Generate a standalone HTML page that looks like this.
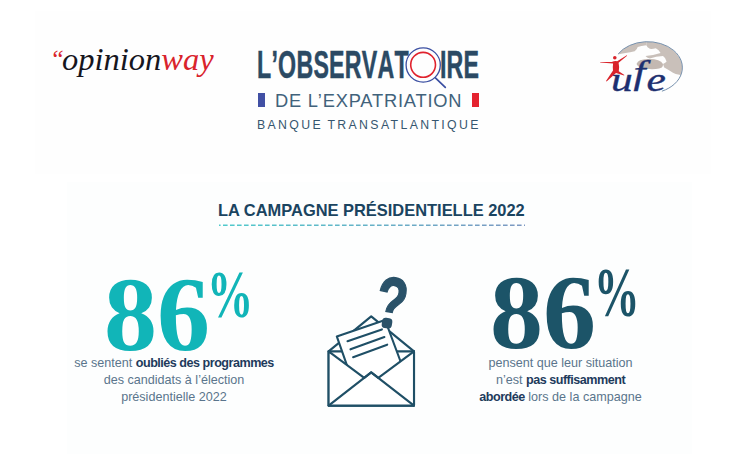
<!DOCTYPE html>
<html lang="fr">
<head>
<meta charset="utf-8">
<title>L'Observatoire de l'expatriation – La campagne présidentielle 2022</title>
<style>
  html,body{margin:0;padding:0;background:#fff;}
  body{width:745px;height:465px;position:relative;overflow:hidden;
       font-family:"Liberation Sans",sans-serif;}
  .abs{position:absolute;white-space:nowrap;line-height:1;transform-origin:left top;}
  .panel{position:absolute;background:#fefefe;}
  #p1{left:35px;top:11px;width:676px;height:163px;}
  #p2{left:67px;top:182px;width:624.5px;height:272px;background:#fdfefe;}

  /* opinionway */
  #ow{left:50px;top:43px;font-family:"Liberation Serif",serif;font-style:italic;
      font-size:32.5px;color:#16161e;}
  #ow .r{color:#d9232b;}
  #ow .q{font-size:25px;position:relative;top:-3px;margin-right:-2px;}

  /* observatoire */
  #obs{left:257px;top:45px;font-weight:bold;font-size:39px;color:#2b4a64;
       transform:scaleX(0.595);font-kerning:none;letter-spacing:0.4px;-webkit-text-stroke:0.5px #2b4a64;}
  #obs .o{display:inline-block;width:52px;text-align:center;color:transparent;letter-spacing:0;-webkit-text-stroke:0 transparent;}
  #obs .e{letter-spacing:0.3px;}
  #de{left:275px;top:91.6px;font-size:18.3px;color:#41627b;letter-spacing:0.8px;}
  #bq{left:257px;top:119px;font-size:12.3px;color:#36566f;letter-spacing:2.36px;word-spacing:-1.2px;}
  .bar{position:absolute;width:6.5px;height:14px;top:93px;}
  #bb{left:258px;background:#4150a4;}
  #br{left:472px;background:#e4232f;}

  /* title */
  #ttl{left:217.5px;top:202.3px;font-weight:bold;font-size:16.2px;color:#1a4460;transform:scaleX(1.015);}
  #dash{position:absolute;left:219px;top:224px;width:307px;height:3px;}

  /* numbers */
  .num{font-family:"Liberation Serif",serif;font-weight:bold;font-size:106px;}
  #n1{left:104px;top:262px;color:#11b5b8;}
  #n2{left:490px;top:260px;color:#1c5468;}
  .pct{font-family:"Liberation Serif",serif;font-weight:bold;font-size:68px;transform:scaleX(0.68);}
  #pc1{left:206.5px;top:259.5px;color:#11b5b8;}
  #pc2{left:593.5px;top:258px;font-size:70px;transform:scaleX(0.65);color:#1c5468;}

  .txt{position:absolute;text-align:center;font-size:12.6px;line-height:16.9px;
       color:#5a758c;white-space:nowrap;}
  .txt b{color:#1e3b5c;letter-spacing:-0.5px;}
  #t1{left:24px;width:300px;top:355px;}
  #t2{left:410.5px;width:300px;top:355px;}

  .ico{position:absolute;overflow:visible;}
  #ufe{left:611px;top:63px;font-family:"Liberation Serif",serif;font-style:italic;
       font-size:34px;color:#1d2f70;-webkit-text-stroke:0.35px #1d2f70;transform:scaleX(1.28);letter-spacing:0.6px;}
  #ufe .f{position:relative;top:-7px;}
  #qm{left:382px;top:265px;font-weight:bold;font-size:71px;color:#2a5269;
      -webkit-text-stroke:1.4px #2a5269;transform:rotate(9deg) scaleX(0.72);clip-path:inset(-5px -5px 23px -5px);}
</style>
</head>
<body>
<div class="panel" id="p1"></div>
<div class="panel" id="p2"></div>

<div class="abs" id="ow"><span class="r q">“</span>opinion<span class="r">way</span></div>

<div class="abs" id="obs">L’OBSERVAT<span class="o">O</span><span class="e">IRE</span></div>
<div class="bar" id="bb"></div>
<div class="abs" id="de">DE L’EXPATRIATION</div>
<div class="bar" id="br"></div>
<div class="abs" id="bq">BANQUE TRANSATLANTIQUE</div>


<!-- magnifier replacing the second O -->
<svg class="ico" style="left:400px;top:42px;width:52px;height:50px" viewBox="400 42 52 50">
  <circle cx="423.2" cy="65" r="17.1" fill="none" stroke="#3b4fa2" stroke-width="1.3"/>
  <circle cx="423.1" cy="64.8" r="12.4" fill="none" stroke="#e0222d" stroke-width="1.6"/>
  <line x1="435.4" y1="77.9" x2="445.3" y2="87.3" stroke="#3b4fa2" stroke-width="1.7" stroke-linecap="round"/>
</svg>

<!-- envelope icon -->
<svg class="ico" style="left:320px;top:305px;width:104px;height:110px" viewBox="320 305 104 110">
  <g fill="none" stroke="#1f4f66" stroke-width="2.1" stroke-linejoin="round" stroke-linecap="round">
    <!-- open flap -->
    <path d="M328.6 351.4 L371.2 316.4 L414 351.4"/>
    <!-- body -->
    <path d="M328.6 351.4 H414 V405.6 H328.6 Z" fill="#fff"/>
    <!-- sheet of paper -->
    <path d="M336.8 336.4 L385.1 320 L405.6 375 L357 394 Z" fill="#fff"/>
    <path d="M347.5 341.2 L381.9 329.4 M350.5 349.3 L384.4 337 M353.1 357.2 L387.2 344.7"/>
    <!-- front pocket -->
    <path d="M328.6 351.4 L364.2 377.8 L371.2 372.3 L378.3 377.8 L414 351.4 V405.6 H328.6 Z" fill="#fff"/>
    <path d="M328.6 405.6 L371.2 372.3 L414 405.6"/>
  </g>
  <!-- dot of the question mark -->
  <rect x="381.9" y="318" width="10.2" height="10.4" rx="3.6" fill="#2a5269" transform="rotate(9 387 323.2)"/>
</svg>

<!-- ufe logo -->
<svg class="ico" style="left:596px;top:36px;width:92px;height:62px" viewBox="596 36 92 62">
  <!-- land masses -->
  <defs><clipPath id="gc"><ellipse cx="647.5" cy="67.7" rx="34.7" ry="25.9"/></clipPath></defs>
  <g fill="#c9c0ba" clip-path="url(#gc)">
    <path d="M608 57 L617.6 54.6 Q621 53.6 625.7 53.1 Q630 52.6 634.7 51.3 Q637 49.8 637.7 47 Q641 45.6 646.3 45.2 L646.3 36 L608 36Z"/>
    <path d="M646.3 36 L646.3 45.2 Q647.2 47.4 649.8 48.8 Q652.5 49.2 655.8 48.2 Q659 49.6 660.6 53.1 Q653 55.6 645.5 56.1 Q646.6 58 649.8 58.5 Q656 56.4 663 56.1 Q665.8 58 666.6 61.5 Q665.6 63 663 63.9 L664.2 67.6 Q667.5 69.2 670.2 71.1 Q673 73.2 675.7 74.1 L680.5 74.9 L692 76 L692 36Z"/>
    <path d="M636.5 63.9 Q637.5 61.3 640.1 60.3 Q645 59 649.8 59.1 Q654.5 59.2 658.2 60.3 Q661.6 61.6 663 63.9 Q663.2 66.2 661.8 67.5 Q659.5 68.8 655.8 69.1 Q648 69.6 641.3 68.1 Q637.5 66.6 636.5 63.9Z" fill="#c3b8b1"/>
  </g>
  <!-- globe outline -->
  <path d="M618.2 53.9 A34.7 25.9 0 1 1 661.9 91.2" fill="none" stroke="#7690ad" stroke-width="1"/>
  <!-- person -->
  <g fill="#d9232b">
    <circle cx="614.8" cy="57.7" r="1.8"/>
    <path d="M600.2 62 L611.8 62.1 Q614.6 60.6 617.2 61.2 L626.8 55.3 L627.1 55.8 L618.6 62.8 Q619.6 67.6 618.8 71.2 L624.4 75 L624 75.6 L616 72.9 L606.6 81.5 L606 81 L613 70.6 Q612.6 66.6 613.1 63.5 L600.2 62.5 Z"/>
  </g>
</svg>
<div class="abs" id="ufe">u<span class="f">f</span>e</div>

<div class="abs" id="ttl">LA CAMPAGNE PRÉSIDENTIELLE 2022</div>
<svg id="dash" viewBox="0 0 307 3">
  <defs><linearGradient id="g1" gradientUnits="userSpaceOnUse" x1="0" x2="307" y1="0" y2="0">
    <stop offset="0" stop-color="#4fcacc"/><stop offset="1" stop-color="#7d98c2"/>
  </linearGradient></defs>
  <line x1="0" y1="1.2" x2="306" y2="1.2" stroke="url(#g1)" stroke-width="1.5" stroke-dasharray="4.6 2.4" stroke-dashoffset="3"/>
</svg>

<div class="abs num" id="n1">86</div>
<div class="abs pct" id="pc1">%</div>
<div class="txt" id="t1">se sentent <b>oubliés des programmes</b><br>des candidats à l’élection<br>présidentielle 2022</div>

<div class="abs" id="qm">?</div>

<div class="abs num" id="n2">86</div>
<div class="abs pct" id="pc2">%</div>
<div class="txt" id="t2">pensent que leur situation<br>n’est <b>pas suffisamment</b><br><b>abordée</b> lors de la campagne</div>
</body>
</html>
